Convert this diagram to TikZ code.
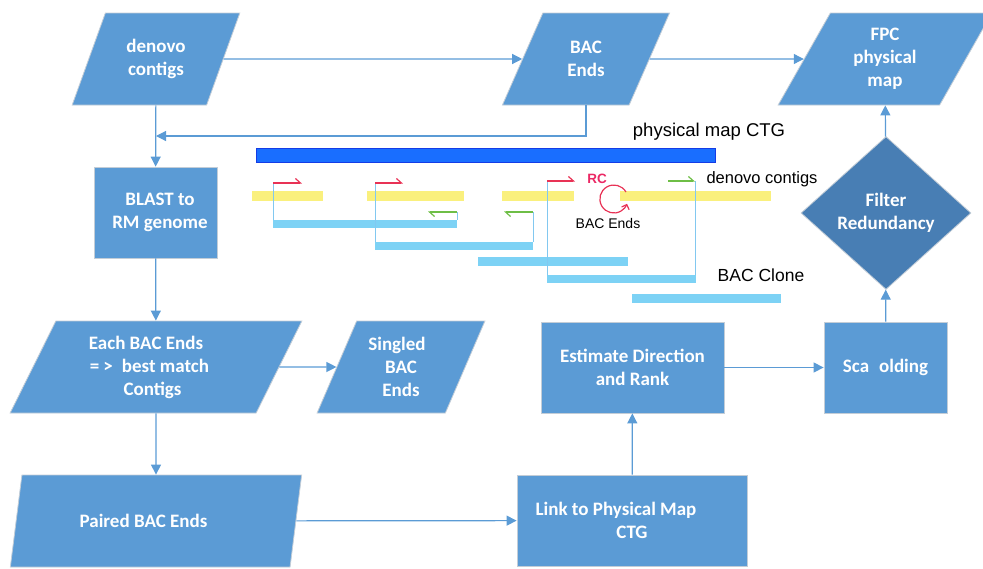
\documentclass[tikz,border=0pt]{standalone}
\usepackage{fontspec}
\setmainfont{Carlito}
\newfontfamily\labelfont{Liberation Sans}
\usetikzlibrary{shapes.geometric,arrows.meta}

\definecolor{boxblue}{RGB}{91,155,213}
\definecolor{boxedge}{RGB}{195,205,215}
\definecolor{decblue}{RGB}{72,126,180}
\definecolor{linkblue}{RGB}{91,155,213}
\definecolor{ctgblue}{RGB}{25,110,255}
\definecolor{ctgedge}{RGB}{20,60,230}
\definecolor{contigyellow}{RGB}{250,240,125}
\definecolor{cloneblue}{RGB}{125,210,245}
\definecolor{bracketblue}{RGB}{130,200,240}
\definecolor{endred}{RGB}{232,50,85}
\definecolor{endgreen}{RGB}{110,190,70}
\definecolor{rcpink}{RGB}{235,40,100}

\tikzset{
  boxtext/.style={text=white, font=\fontsize{19}{23}\selectfont\bfseries, align=center, inner sep=0pt},
  procbox/.style={boxtext, rectangle, fill=boxblue, draw=boxedge, line width=0.8pt,
    minimum width=#1, minimum height=91pt},
  iobox/.style={boxtext, trapezium, trapezium left angle=63.9, trapezium right angle=116.1,
    trapezium stretches=true, fill=boxblue, draw=boxedge, line width=0.8pt,
    minimum width=#1, minimum height=92pt},
  decbox/.style={boxtext, diamond, fill=decblue, draw=boxedge, line width=0.8pt,
    minimum width=170pt, minimum height=153pt},
  conn/.style={draw=linkblue, line width=1.2pt, -{Triangle[length=10pt,width=10pt]}},
  schemtext/.style={inner sep=0pt, text=black},
  bracket/.style={draw=bracketblue, line width=1pt},
  fwdend/.style={draw=endred, line width=1.2pt, -{Straight Barb[harpoon,length=5pt,width=9pt]}},
  revend/.style={draw=endgreen, line width=1.2pt, -{Straight Barb[harpoon,length=5pt,width=9pt]}},
}

\begin{document}
\begin{tikzpicture}[x=1pt, y=-1pt]
\useasboundingbox (0,0) rectangle (983,568);

% ---- flowchart nodes ----
\node[iobox=168pt] (dc) at (156,59) {denovo\\contigs};
\node[iobox=168pt] (bac) at (586,59) {BAC\\Ends};
\node[iobox=214pt] (fpc) at (885,59) {FPC\\physical\\map};
\node[procbox=123pt] (blast) at (155.5,212.5) {\hspace*{9pt}BLAST to\\\hspace*{9pt}RM genome};
\node[iobox=292pt] (each) at (156,367)
  {Each BAC Ends\hspace*{20pt}\\\hspace*{-13pt}=\hspace{4pt}>\hspace{9pt}best match\\Contigs\hspace*{7pt}};
\node[iobox=168pt] (single) at (401,367) {Singled\hspace*{8pt}\\BAC\\Ends};
\node[iobox=292pt] (paired) at (156,521) {Paired BAC Ends\hspace*{25pt}};
\node[procbox=230pt] (link) at (632,520.5) {Link to Physical Map\hspace*{32pt}\\CTG};
\node[procbox=183pt] (est) at (632.5,367.5) {Estimate Direction\\and Rank};
\node[procbox=123pt] (scaf) at (885.5,367.5) {Sca\hspace{10pt}olding};
\node[decbox] (filt) at (886,213) {Filter\\Redundancy};

% ---- connectors ----
\coordinate (join) at (156,136);
\draw[conn] (dc) -- (bac);
\draw[conn] (bac) -- (fpc);
\draw[conn] (bac.south) |- (join);
\draw[conn] (dc) -- (blast);
\draw[conn] (blast) -- (each);
\draw[conn] (each) -- (single);
\draw[conn] (each) -- (paired);
\draw[conn] (paired) -- (link);
\draw[conn] (link) -- (est);
\draw[conn] (est) -- (scaf);
\draw[conn] (scaf) -- (filt);
\draw[conn] (filt) -- (fpc);

% ---- schematic: physical map contig ----
\filldraw[fill=ctgblue, draw=ctgedge, line width=0.8pt] (256,148) rectangle (715,162);
\node[schemtext, font=\labelfont\fontsize{18.5}{20}\selectfont] (ctglab) at (709,132) {physical map CTG};

% de novo contigs
\foreach \a/\b in {252/323, 367/464, 502/574, 620/771}
  \fill[contigyellow] (\a,191) rectangle (\b,201);
\node[schemtext, font=\labelfont\fontsize{16.5}{18}\selectfont] (dclab) at (762,179) {denovo contigs};

% BAC clones
\fill[cloneblue] (273,220) rectangle (457,228);
\fill[cloneblue] (375,242) rectangle (533,250);
\fill[cloneblue] (478,257) rectangle (628,266);
\fill[cloneblue] (547,275) rectangle (696,283);
\fill[cloneblue] (632,294) rectangle (781,303);
\node[schemtext, font=\labelfont\fontsize{17.5}{19}\selectfont] (clonelab) at (761,275) {BAC Clone};

% BAC end brackets
\draw[bracket] (273,220) -- (273,183);
\draw[bracket] (457,220) -- (457,212);
\draw[bracket] (375,242) -- (375,183);
\draw[bracket] (533,242) -- (533,212);
\draw[bracket] (547,275) -- (547,181);
\draw[bracket] (695,275) -- (695,181);

\draw[fwdend] (273,183) -- (302,183);
\draw[fwdend] (375,183) -- (403,183);
\draw[fwdend] (547,181) -- (575,181);
\draw[revend] (457,212) -- (428,212);
\draw[revend] (533,212) -- (504,212);
\draw[revend] (668,181) -- (695,181);

% reverse complement marker
\node[schemtext, text=rcpink, font=\labelfont\bfseries\fontsize{13.5}{15}\selectfont] (rc) at (597,179) {RC};
\draw[draw=endred, line width=1.2pt, -{Straight Barb[length=4pt,width=8pt]}]
  (626,192) arc[start angle=-30, end angle=-340, radius=14];
\node[schemtext, font=\labelfont\fontsize{14}{16}\selectfont] (endlab) at (608,223) {BAC Ends};
\end{tikzpicture}
\end{document}
